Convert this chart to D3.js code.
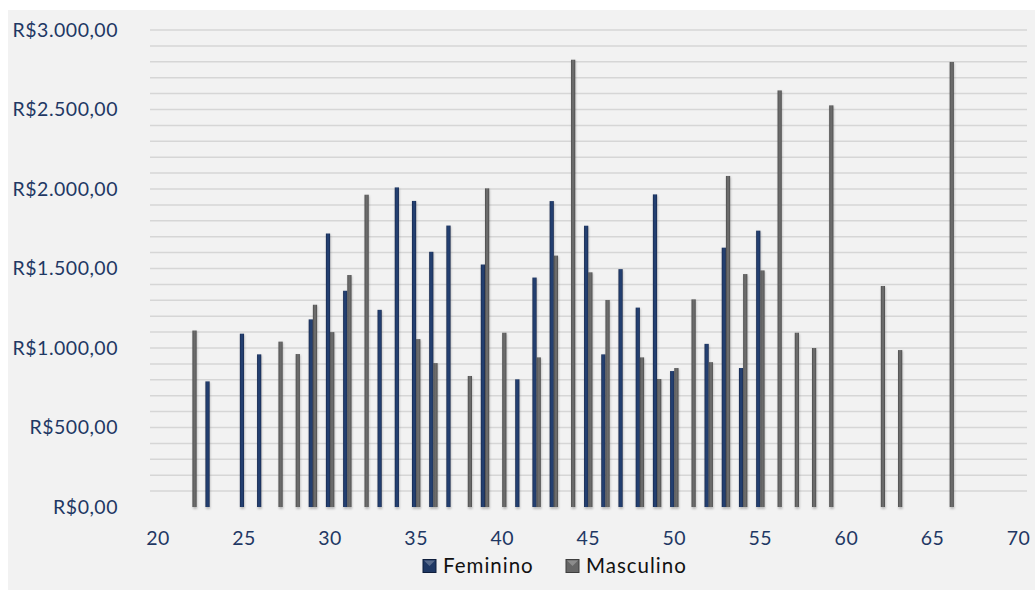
<!DOCTYPE html>
<html>
<head>
<meta charset="utf-8">
<script src="https://cdn.jsdelivr.net/npm/d3@7"></script>
<style>
  html, body { margin: 0; padding: 0; background: #ffffff; }
  svg { display: block; }
</style>
</head>
<body>
<svg id="chart" width="1035" height="590"></svg>
<script>
// ---- data ----
const series = ["Feminino", "Masculino"];
const femAges   = [23, 25, 26, 29, 30, 31, 33, 34, 35, 36, 37, 39, 41, 42, 43, 45, 46, 47, 48, 49, 50, 52, 53, 54, 55];
const femValues = [790, 1090, 960, 1180, 1720, 1360, 1240, 2010, 1925, 1605, 1770, 1525, 803, 1443, 1924, 1769, 960, 1496, 1254, 1966, 855, 1026, 1631, 874, 1738];
const mascAges   = [22, 27, 28, 29, 30, 31, 32, 35, 36, 38, 39, 40, 42, 43, 44, 45, 46, 48, 49, 50, 51, 52, 53, 54, 55, 56, 57, 58, 59, 62, 63, 66];
const mascValues = [1110, 1040, 962, 1272, 1100, 1459, 1964, 1056, 905, 824, 2004, 1096, 941, 1581, 2813, 1476, 1302, 941, 805, 874, 1306, 911, 2082, 1465, 1488, 2620, 1096, 1000, 2526, 1390, 987, 2799];
const xTicks = [20, 25, 30, 35, 40, 45, 50, 55, 60, 65, 70];
const yTicks = [0, 500, 1000, 1500, 2000, 2500, 3000];
const yMinorStep = 100;

// ---- layout ----
const svg = d3.select("#chart");
const W = 1035, H = 590;
const x = d3.scaleLinear().domain([20, 70]).range([158, 1018.5]);
const y = d3.scaleLinear().domain([0, 3000]).range([507, 30]);
const gridX0 = 150, gridX1 = 1027;
const barW = 4.2;
const fontFam = "Lato, 'Open Sans', 'Noto Sans', sans-serif";
const axisColor = "#1f3864";

// background
svg.append("rect").attr("x", 8).attr("y", 10).attr("width", W - 8).attr("height", H - 10).attr("fill", "#f2f2f2");

// gradients
const defs = svg.append("defs");
function grad(id, stops) {
  const g = defs.append("linearGradient").attr("id", id).attr("x1", "0%").attr("x2", "100%").attr("y1", "0%").attr("y2", "0%");
  stops.forEach(s => g.append("stop").attr("offset", s[0]).attr("stop-color", s[1]));
}
grad("gF", [["0%", "#14254a"], ["30%", "#233f70"], ["70%", "#233f70"], ["100%", "#14254a"]]);
grad("gM", [["0%", "#4a4a4a"], ["35%", "#6b6b6b"], ["65%", "#6b6b6b"], ["100%", "#4a4a4a"]]);
const blur = defs.append("filter").attr("id", "sh").attr("x", "-100%").attr("y", "-5%").attr("width", "300%").attr("height", "110%");
blur.append("feGaussianBlur").attr("stdDeviation", 1.2);

// minor + major gridlines
const gridVals = d3.range(yMinorStep, 3000 + 1, yMinorStep);
svg.append("g").selectAll("line").data(gridVals).join("line")
  .attr("x1", gridX0).attr("x2", gridX1)
  .attr("y1", d => y(d)).attr("y2", d => y(d))
  .attr("stroke", "#d6d6d6").attr("stroke-width", 1.5);

// bars
const femData = femAges.map((a, i) => ({ age: a, v: femValues[i] }));
const mascData = mascAges.map((a, i) => ({ age: a, v: mascValues[i] }));

function drawBars(data, offset, fill, shadowColor) {
  const g = svg.append("g");
  g.selectAll("rect.s").data(data).join("rect").attr("class", "s")
    .attr("x", d => x(d.age) + offset + 0.6).attr("y", d => y(d.v) + 1)
    .attr("width", barW).attr("height", d => y(0) - y(d.v) + 1)
    .attr("fill", shadowColor).attr("opacity", 0.35).attr("filter", "url(#sh)");
  g.selectAll("rect.b").data(data).join("rect").attr("class", "b")
    .attr("x", d => x(d.age) + offset).attr("y", d => y(d.v))
    .attr("width", barW).attr("height", d => y(0) - y(d.v))
    .attr("fill", fill);
}
drawBars(femData, -barW, "url(#gF)", "#555");
drawBars(mascData, 0, "url(#gM)", "#555");

// y axis labels
const fmt = v => "R$" + d3.format(",.2f")(v).replace(/,/g, "#").replace(".", ",").replace(/#/g, ".");
svg.append("g").selectAll("text").data(yTicks).join("text")
  .attr("x", 118).attr("y", d => y(d)).attr("dy", "0.35em")
  .attr("text-anchor", "end").attr("fill", axisColor)
  .style("font-family", fontFam).style("font-size", "19.5px").style("letter-spacing", "0.5px")
  .text(fmt);

// x axis labels
svg.append("g").selectAll("text").data(xTicks).join("text")
  .attr("x", d => x(d)).attr("y", 538).attr("dy", "0.35em")
  .attr("text-anchor", "middle").attr("fill", axisColor)
  .style("font-family", fontFam).style("font-size", "19.5px").style("letter-spacing", "0.5px")
  .text(d => d);

// legend
const legend = [
  { name: series[0], x: 423, fill: "#1f3864", edge: "#0f1e3c" },
  { name: series[1], x: 566, fill: "#666666", edge: "#3d3d3d" }
];
const lg = svg.append("g");
legend.forEach(l => {
  lg.append("rect").attr("x", l.x).attr("y", 559.5).attr("width", 13).attr("height", 13)
    .attr("fill", l.fill).attr("stroke", l.edge).attr("stroke-width", 1);
  lg.append("path")
    .attr("d", `M${l.x + 1},${560.5} L${l.x + 12},${560.5} L${l.x + 6.5},${566}Z`)
    .attr("fill", "#ffffff").attr("opacity", 0.25);
  lg.append("text").attr("x", l.x + 20).attr("y", 566).attr("dy", "0.35em")
    .attr("fill", "#111").style("font-family", fontFam).style("font-size", "20.5px").style("letter-spacing", "1px")
    .text(l.name);
});
</script>
</body>
</html>
